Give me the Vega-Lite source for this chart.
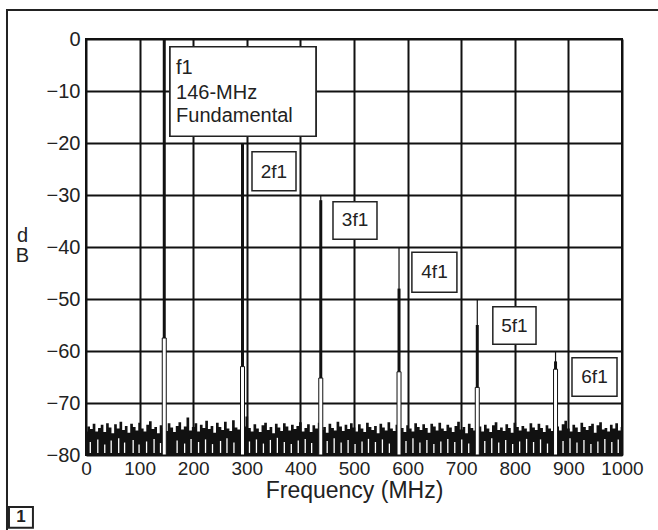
{
  "$schema": "https://vega.github.io/schema/vega-lite/v6.json",
  "width": 536,
  "height": 416,
  "autosize": {"type": "none"},
  "padding": {"left": 86, "top": 39, "right": 36, "bottom": 75},
  "background": "white",
  "config": {
    "view": {"stroke": "#111", "strokeWidth": 2},
    "scale": {"continuousPadding": 0},
    "font": "Liberation Sans, Arial",
    "axis": {
      "labelFont": "Liberation Sans, Arial",
      "labelFontSize": 19,
      "labelColor": "#222",
      "titleFont": "Liberation Sans, Arial",
      "titleFontSize": 23,
      "titleFontWeight": "normal",
      "titleColor": "#222",
      "gridColor": "#111",
      "gridWidth": 2,
      "gridOpacity": 1,
      "ticks": false,
      "domain": false
    }
  },
  "datasets": {
    "noise": [
      {"f":0,"db":-75.5},{"f":5,"db":-74.5},{"f":10,"db":-75},{"f":15,"db":-74},{"f":20,"db":-75.5},{"f":25,"db":-74.8},{"f":30,"db":-74.2},{"f":35,"db":-75.6},{"f":40,"db":-73.9},{"f":45,"db":-74.7},
      {"f":50,"db":-75.8},{"f":55,"db":-74.1},{"f":60,"db":-74.9},{"f":65,"db":-73.6},{"f":70,"db":-75.2},{"f":75,"db":-74.4},{"f":80,"db":-75.7},{"f":85,"db":-74},{"f":90,"db":-74.6},{"f":95,"db":-75.3},
      {"f":100,"db":-73.8},{"f":105,"db":-74.9},{"f":110,"db":-75.5},{"f":115,"db":-74.2},{"f":120,"db":-73.5},{"f":125,"db":-75},{"f":130,"db":-74.6},{"f":135,"db":-75.8},{"f":140,"db":-74.3},{"f":145,"db":-74.8},
      {"f":150,"db":-75.4},{"f":155,"db":-73.9},{"f":160,"db":-74.7},{"f":165,"db":-75.6},{"f":170,"db":-74.4},{"f":175,"db":-73.7},{"f":180,"db":-75.1},{"f":185,"db":-74.5},{"f":190,"db":-72.8},{"f":195,"db":-75.3},
      {"f":200,"db":-74.6},{"f":205,"db":-73.9},{"f":210,"db":-75.5},{"f":215,"db":-74.2},{"f":220,"db":-74.8},{"f":225,"db":-73.4},{"f":230,"db":-75},{"f":235,"db":-74.4},{"f":240,"db":-75.7},{"f":245,"db":-73.8},
      {"f":250,"db":-74.6},{"f":255,"db":-75.2},{"f":260,"db":-73.6},{"f":265,"db":-74.9},{"f":270,"db":-75.4},{"f":275,"db":-73.3},{"f":280,"db":-74.7},{"f":285,"db":-75.1},{"f":290,"db":-74},{"f":295,"db":-74.5},
      {"f":300,"db":-72.6},{"f":305,"db":-74.8},{"f":310,"db":-75.5},{"f":315,"db":-74.1},{"f":320,"db":-74.9},{"f":325,"db":-75.6},{"f":330,"db":-74.3},{"f":335,"db":-73.8},{"f":340,"db":-75.2},{"f":345,"db":-74.6},
      {"f":350,"db":-75.8},{"f":355,"db":-74},{"f":360,"db":-74.7},{"f":365,"db":-75.4},{"f":370,"db":-73.9},{"f":375,"db":-74.5},{"f":380,"db":-75.3},{"f":385,"db":-74.2},{"f":390,"db":-75},{"f":395,"db":-74.4},
      {"f":400,"db":-73.7},{"f":405,"db":-75.5},{"f":410,"db":-74.8},{"f":415,"db":-74.1},{"f":420,"db":-75.6},{"f":425,"db":-74.3},{"f":430,"db":-74.9},{"f":435,"db":-73.8},{"f":440,"db":-75.2},{"f":445,"db":-74.6},
      {"f":450,"db":-75.7},{"f":455,"db":-74},{"f":460,"db":-74.8},{"f":465,"db":-75.3},{"f":470,"db":-73.6},{"f":475,"db":-74.5},{"f":480,"db":-75.4},{"f":485,"db":-74.2},{"f":490,"db":-75},{"f":495,"db":-73.9},
      {"f":500,"db":-74.7},{"f":505,"db":-75.5},{"f":510,"db":-74.1},{"f":515,"db":-74.9},{"f":520,"db":-75.6},{"f":525,"db":-73.8},{"f":530,"db":-74.6},{"f":535,"db":-75.2},{"f":540,"db":-74.4},{"f":545,"db":-75.8},
      {"f":550,"db":-74},{"f":555,"db":-74.7},{"f":560,"db":-75.3},{"f":565,"db":-73.7},{"f":570,"db":-74.9},{"f":575,"db":-75.4},{"f":580,"db":-74.2},{"f":585,"db":-73.5},{"f":590,"db":-74.8},{"f":595,"db":-75.6},
      {"f":600,"db":-74.3},{"f":605,"db":-74.9},{"f":610,"db":-75.5},{"f":615,"db":-73.9},{"f":620,"db":-74.6},{"f":625,"db":-75.2},{"f":630,"db":-74.1},{"f":635,"db":-74.8},{"f":640,"db":-75.7},{"f":645,"db":-74},
      {"f":650,"db":-74.5},{"f":655,"db":-75.3},{"f":660,"db":-73.8},{"f":665,"db":-74.9},{"f":670,"db":-75.4},{"f":675,"db":-74.2},{"f":680,"db":-74.7},{"f":685,"db":-75.6},{"f":690,"db":-74.4},{"f":695,"db":-73.6},
      {"f":700,"db":-75.1},{"f":705,"db":-74.6},{"f":710,"db":-75.8},{"f":715,"db":-74},{"f":720,"db":-74.8},{"f":725,"db":-75.3},{"f":730,"db":-73.9},{"f":735,"db":-74.5},{"f":740,"db":-75.5},{"f":745,"db":-74.2},
      {"f":750,"db":-74.9},{"f":755,"db":-75.6},{"f":760,"db":-74.3},{"f":765,"db":-73.7},{"f":770,"db":-75.2},{"f":775,"db":-74.7},{"f":780,"db":-75.4},{"f":785,"db":-74.1},{"f":790,"db":-74.8},{"f":795,"db":-75.7},
      {"f":800,"db":-73.8},{"f":805,"db":-74.6},{"f":810,"db":-75.3},{"f":815,"db":-74.4},{"f":820,"db":-74.9},{"f":825,"db":-75.5},{"f":830,"db":-73.9},{"f":835,"db":-74.7},{"f":840,"db":-75.2},{"f":845,"db":-74},
      {"f":850,"db":-74.8},{"f":855,"db":-75.6},{"f":860,"db":-74.3},{"f":865,"db":-74.9},{"f":870,"db":-75.4},{"f":875,"db":-73.6},{"f":880,"db":-74.5},{"f":885,"db":-75.3},{"f":890,"db":-74.1},{"f":895,"db":-73.4},
      {"f":900,"db":-74.9},{"f":905,"db":-75.5},{"f":910,"db":-74.2},{"f":915,"db":-74.7},{"f":920,"db":-75.6},{"f":925,"db":-73.8},{"f":930,"db":-74.6},{"f":935,"db":-75.2},{"f":940,"db":-74.4},{"f":945,"db":-74},
      {"f":950,"db":-75.7},{"f":955,"db":-74.3},{"f":960,"db":-73.7},{"f":965,"db":-75.1},{"f":970,"db":-74.8},{"f":975,"db":-75.5},{"f":980,"db":-74.2},{"f":985,"db":-74.9},{"f":990,"db":-73.9},{"f":995,"db":-75.3},
      {"f":1000,"db":-74.6}
    ],
    "gaps": [
      {"f":8,"top":-77.5},{"f":22,"top":-77},{"f":35,"top":-78},{"f":47,"top":-77.2},{"f":61,"top":-76.8},{"f":72,"top":-77.6},{"f":88,"top":-77.1},{"f":99,"top":-78},{"f":113,"top":-77.4},{"f":127,"top":-76.9},
      {"f":139,"top":-77.7},{"f":170,"top":-77.2},{"f":184,"top":-77.8},{"f":196,"top":-76.9},{"f":210,"top":-77.5},{"f":223,"top":-77},{"f":236,"top":-77.9},{"f":251,"top":-77.3},{"f":263,"top":-76.8},{"f":276,"top":-77.6},
      {"f":305,"top":-77.4},{"f":318,"top":-77},{"f":331,"top":-77.8},{"f":344,"top":-77.1},{"f":357,"top":-76.7},{"f":370,"top":-77.5},{"f":383,"top":-77.9},{"f":396,"top":-77.2},{"f":409,"top":-76.9},{"f":421,"top":-77.7},
      {"f":450,"top":-77.3},{"f":463,"top":-76.8},{"f":476,"top":-77.6},{"f":489,"top":-77.1},{"f":502,"top":-77.9},{"f":515,"top":-77.4},{"f":527,"top":-76.9},{"f":540,"top":-77.5},{"f":553,"top":-77},{"f":566,"top":-77.8},
      {"f":597,"top":-77.3},{"f":610,"top":-76.8},{"f":623,"top":-77.6},{"f":636,"top":-77.1},{"f":649,"top":-77.9},{"f":662,"top":-77.4},{"f":675,"top":-76.9},{"f":688,"top":-77.5},{"f":701,"top":-77},{"f":714,"top":-77.8},
      {"f":744,"top":-77.3},{"f":757,"top":-76.8},{"f":770,"top":-77.6},{"f":783,"top":-77.1},{"f":796,"top":-77.9},{"f":809,"top":-77.4},{"f":822,"top":-76.9},{"f":835,"top":-77.5},{"f":848,"top":-77},{"f":861,"top":-77.8},
      {"f":890,"top":-77.3},{"f":903,"top":-76.8},{"f":916,"top":-77.6},{"f":929,"top":-77.1},{"f":942,"top":-77.9},{"f":955,"top":-77.4},{"f":968,"top":-76.9},{"f":981,"top":-77.5},{"f":993,"top":-77}
    ],
    "harmonics": [
      {"name":"f1","f":146,"peak":0,"thick":0,"base":-57.5},
      {"name":"2f1","f":292,"peak":-20,"thick":-20,"base":-63},
      {"name":"3f1","f":438,"peak":-30,"thick":-31,"base":-65.2},
      {"name":"4f1","f":584,"peak":-40,"thick":-48,"base":-64},
      {"name":"5f1","f":730,"peak":-50,"thick":-55,"base":-67},
      {"name":"6f1","f":876,"peak":-60,"thick":-62,"base":-63.5}
    ],
    "labels": [
      {"name":"2f1","x1":309.7,"x2":391.8,"y1":-21.7,"y2":-29.2,"tx":350.7,"ty":-25.5},
      {"name":"3f1","x1":460.8,"x2":542.9,"y1":-31.3,"y2":-38.5,"tx":501.9,"ty":-34.9},
      {"name":"4f1","x1":608,"x2":692,"y1":-41,"y2":-48.7,"tx":650.2,"ty":-44.8},
      {"name":"5f1","x1":759,"x2":839.6,"y1":-51.5,"y2":-58.7,"tx":799.4,"ty":-55.1},
      {"name":"6f1","x1":906.7,"x2":990.7,"y1":-61.3,"y2":-68.7,"tx":948.7,"ty":-65}
    ],
    "fundamental": [
      {"x1":156.7,"x2":429,"y1":-1.5,"y2":-18.7,"tx":168,"line":"f1","ty":-5.6},
      {"x1":156.7,"x2":429,"y1":-1.5,"y2":-18.7,"tx":168,"line":"146-MHz","ty":-10.3},
      {"x1":156.7,"x2":429,"y1":-1.5,"y2":-18.7,"tx":168,"line":"Fundamental","ty":-14.8}
    ],
    "frame": [
      {"x1":-147.4,"x2":1075,"y1":5.6,"y2":-95,"bx1":-143.7,"bx2":-99,"by1":-90,"by2":-94,"tx":-121.3,"ty":-92,"tag":"1"}
    ]
  },
  "layer": [
    {
      "data": {"name": "noise"},
      "mark": {"type": "area", "interpolate": "step", "color": "#111"},
      "encoding": {
        "x": {"field": "f", "type": "quantitative", "scale": {"domain": [0, 1000], "nice": false, "padding": 0},
              "axis": {"values": [0,100,200,300,400,500,600,700,800,900,1000], "format": "d", "title": "Frequency (MHz)", "labelPadding": 4, "titlePadding": 1, "labelFlush": false}},
        "y": {"field": "db", "type": "quantitative", "scale": {"domain": [-80, 0], "nice": false, "zero": false},
              "axis": {"values": [-80,-70,-60,-50,-40,-30,-20,-10,0], "title": ["d","B"], "titleAngle": 0, "titleX": -64, "titleY": 196, "titleAlign": "center", "titleBaseline": "middle", "titleFontSize": 20, "titleLineHeight": 20, "labelPadding": 6, "labelFontSize": 20, "labelFlush": false}},
        "y2": {"datum": -80}
      }
    },
    {
      "data": {"name": "gaps"},
      "mark": {"type": "rule", "color": "white", "strokeWidth": 1.3},
      "encoding": {
        "x": {"field": "f", "type": "quantitative", "scale": {"domain": [0, 1000], "nice": false, "padding": 0}},
        "y": {"field": "top", "type": "quantitative", "scale": {"domain": [-80, 0], "nice": false, "zero": false}},
        "y2": {"datum": -79.6}
      }
    },
    {
      "data": {"name": "harmonics"},
      "mark": {"type": "rule", "color": "#111", "strokeWidth": 1.2},
      "encoding": {
        "x": {"field": "f", "type": "quantitative", "scale": {"domain": [0, 1000], "nice": false, "padding": 0}},
        "y": {"field": "peak", "type": "quantitative", "scale": {"domain": [-80, 0], "nice": false, "zero": false}},
        "y2": {"datum": -80}
      }
    },
    {
      "data": {"name": "harmonics"},
      "mark": {"type": "rule", "color": "#111", "strokeWidth": 3},
      "encoding": {
        "x": {"field": "f", "type": "quantitative", "scale": {"domain": [0, 1000], "nice": false, "padding": 0}},
        "y": {"field": "thick", "type": "quantitative", "scale": {"domain": [-80, 0], "nice": false, "zero": false}},
        "y2": {"field": "base"}
      }
    },
    {
      "data": {"name": "harmonics"},
      "mark": {"type": "bar", "size": 4, "fill": "white", "stroke": "#111", "strokeWidth": 1},
      "encoding": {
        "x": {"field": "f", "type": "quantitative", "scale": {"domain": [0, 1000], "nice": false, "padding": 0}},
        "y": {"field": "base", "type": "quantitative", "scale": {"domain": [-80, 0], "nice": false, "zero": false}},
        "y2": {"datum": -80}
      }
    },
    {
      "data": {"name": "labels"},
      "mark": {"type": "rect", "fill": "white", "stroke": "#222", "strokeWidth": 1.5},
      "encoding": {
        "x": {"field": "x1", "type": "quantitative", "scale": {"domain": [0, 1000], "nice": false, "padding": 0}},
        "x2": {"field": "x2"},
        "y": {"field": "y1", "type": "quantitative", "scale": {"domain": [-80, 0], "nice": false, "zero": false}},
        "y2": {"field": "y2"}
      }
    },
    {
      "data": {"name": "labels"},
      "mark": {"type": "text", "fontSize": 19, "color": "#222", "align": "center", "baseline": "middle"},
      "encoding": {
        "x": {"field": "tx", "type": "quantitative", "scale": {"domain": [0, 1000], "nice": false, "padding": 0}},
        "y": {"field": "ty", "type": "quantitative", "scale": {"domain": [-80, 0], "nice": false, "zero": false}},
        "text": {"field": "name"}
      }
    },
    {
      "data": {"name": "fundamental"},
      "mark": {"type": "rect", "fill": "white", "stroke": "#222", "strokeWidth": 1.5},
      "encoding": {
        "x": {"field": "x1", "type": "quantitative", "scale": {"domain": [0, 1000], "nice": false, "padding": 0}},
        "x2": {"field": "x2"},
        "y": {"field": "y1", "type": "quantitative", "scale": {"domain": [-80, 0], "nice": false, "zero": false}},
        "y2": {"field": "y2"}
      }
    },
    {
      "data": {"name": "fundamental"},
      "mark": {"type": "text", "fontSize": 20, "color": "#222", "align": "left", "baseline": "middle"},
      "encoding": {
        "x": {"field": "tx", "type": "quantitative", "scale": {"domain": [0, 1000], "nice": false, "padding": 0}},
        "y": {"field": "ty", "type": "quantitative", "scale": {"domain": [-80, 0], "nice": false, "zero": false}},
        "text": {"field": "line"}
      }
    },
    {
      "data": {"name": "frame"},
      "mark": {"type": "rect", "fill": null, "fillOpacity": 0, "stroke": "#222", "strokeWidth": 2},
      "encoding": {
        "x": {"field": "x1", "type": "quantitative", "scale": {"domain": [0, 1000], "nice": false, "padding": 0}},
        "x2": {"field": "x2"},
        "y": {"field": "y1", "type": "quantitative", "scale": {"domain": [-80, 0], "nice": false, "zero": false}},
        "y2": {"field": "y2"}
      }
    },
    {
      "data": {"name": "frame"},
      "mark": {"type": "rect", "fill": "white", "stroke": "#222", "strokeWidth": 2},
      "encoding": {
        "x": {"field": "bx1", "type": "quantitative", "scale": {"domain": [0, 1000], "nice": false, "padding": 0}},
        "x2": {"field": "bx2"},
        "y": {"field": "by1", "type": "quantitative", "scale": {"domain": [-80, 0], "nice": false, "zero": false}},
        "y2": {"field": "by2"}
      }
    },
    {
      "data": {"name": "frame"},
      "mark": {"type": "text", "fontSize": 17, "fontWeight": "bold", "color": "#222", "align": "center", "baseline": "middle", "font": "Liberation Sans, Arial"},
      "encoding": {
        "x": {"field": "tx", "type": "quantitative", "scale": {"domain": [0, 1000], "nice": false, "padding": 0}},
        "y": {"field": "ty", "type": "quantitative", "scale": {"domain": [-80, 0], "nice": false, "zero": false}},
        "text": {"field": "tag"}
      }
    }
  ]
}
